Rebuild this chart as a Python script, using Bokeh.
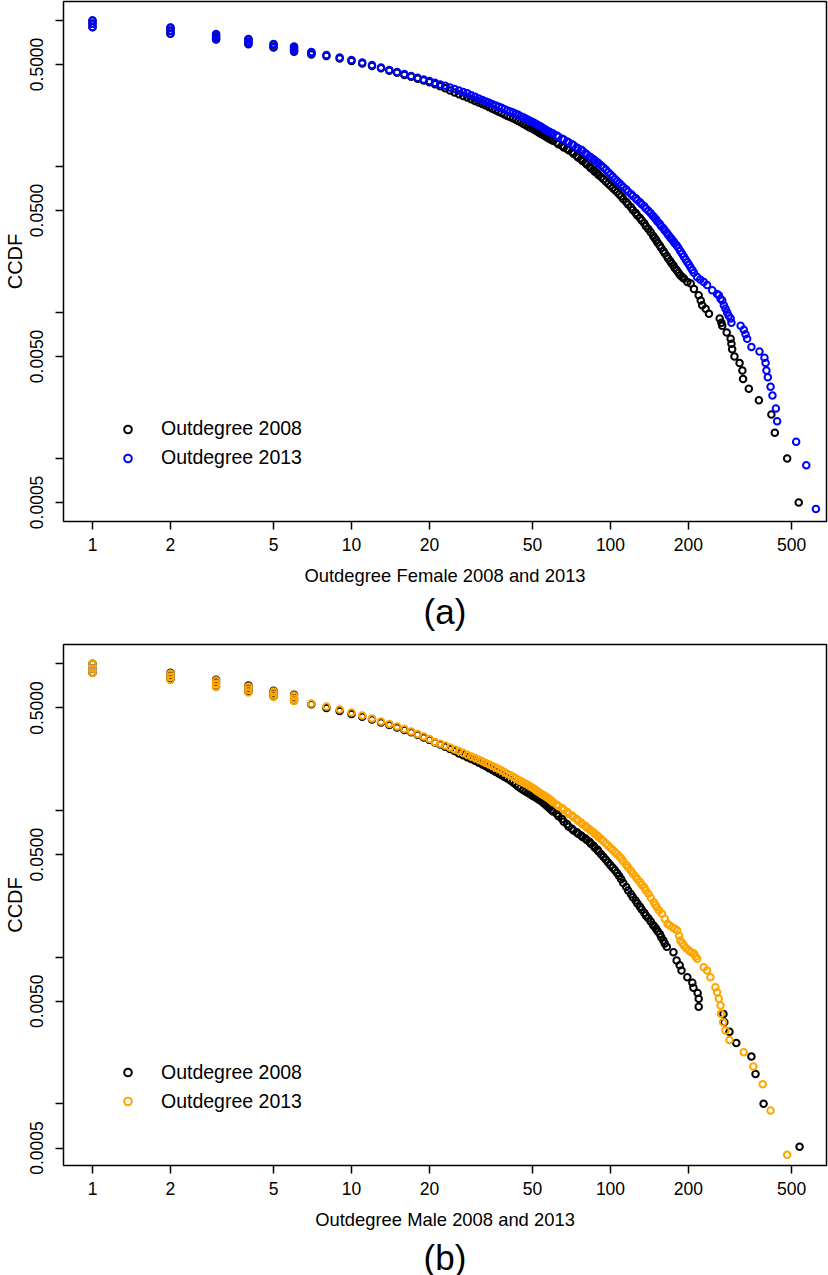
from bokeh.plotting import figure
from bokeh.models import (Range1d, FixedTicker, Legend, LegendItem, Title,
                          BasicTickFormatter, PrintfTickFormatter)
from bokeh.layouts import column
from bokeh.embed import file_html
from bokeh.resources import INLINE

FONT = "Liberation Sans"

# ---------------- data (degree, CCDF) ----------------
# Panel (a): Outdegree Female 2008 (black) and 2013 (blue)
fem08 = [
    (1, 1.0), (1, 0.95), (1, 0.90), (2, 0.89), (2, 0.85), (2, 0.81),
    (3, 0.80), (3, 0.77), (3, 0.74), (4, 0.74), (4, 0.71), (4, 0.688),
    (5, 0.682), (5, 0.652), (6, 0.655), (6, 0.630), (6, 0.610), (7, 0.600), (7, 0.585),
    (8, 0.572), (9, 0.550), (10, 0.528), (11, 0.508), (12, 0.488), (13, 0.470),
    (14, 0.452), (15, 0.438), (16, 0.424), (17, 0.411), (18, 0.399), (19, 0.388),
    (20, 0.378), (21, 0.366), (22, 0.354), (23, 0.343), (24, 0.331), (25, 0.321),
    (26, 0.312), (27, 0.304), (28, 0.297), (29, 0.289), (30, 0.281), (31, 0.274),
    (32, 0.268), (33, 0.262), (34, 0.255), (35, 0.249), (36, 0.243), (37, 0.237),
    (38, 0.232), (39, 0.227), (40, 0.222), (42, 0.214), (44, 0.205), (46, 0.196),
    (48, 0.188), (50, 0.181), (52, 0.174), (54, 0.167), (56, 0.161), (58, 0.155),
    (60, 0.150), (63, 0.142), (66, 0.135), (69, 0.129), (72, 0.122), (75, 0.115),
    (78, 0.109), (81, 0.103), (84, 0.0972), (87, 0.0922), (90, 0.0875), (94, 0.0818),
    (98, 0.0762), (102, 0.0712), (106, 0.0668), (110, 0.0625), (115, 0.0572),
    (120, 0.0525), (125, 0.0481), (130, 0.0444), (135, 0.0408), (140, 0.0373),
    (146, 0.0335), (150, 0.0313), (155, 0.0288), (160, 0.0264), (165, 0.0244),
    (170, 0.0225), (175, 0.0210), (180, 0.0195), (186, 0.0180), (192, 0.0171),
    (198, 0.0162), (204, 0.0158), (210, 0.0145), (219, 0.0131), (223, 0.0121),
    (226, 0.0112), (233, 0.0106), (240, 0.0098), (264, 0.0091), (268, 0.0085),
    (270, 0.0081), (281, 0.0073), (291, 0.0066), (293, 0.0061), (295, 0.0056),
    (301, 0.0050), (315, 0.0045), (323, 0.0040), (325, 0.0035), (342, 0.0030),
    (374, 0.0025), (418, 0.0020), (431, 0.0015), (481, 0.0010), (533, 0.0005),
]
fem08_band = [
    (41, 0.218), (43, 0.2095), (45, 0.2005), (47, 0.192), (49, 0.1845),
    (51, 0.1775), (53, 0.1705), (55, 0.164), (57, 0.158), (59, 0.1525),
    (62, 0.146), (65, 0.1385), (68, 0.132), (71, 0.1255), (74, 0.1185),
    (77, 0.112), (80, 0.106), (83, 0.100), (86, 0.0947), (89, 0.0898),
    (92, 0.0846), (96, 0.0790), (100, 0.0737), (104, 0.0690), (108, 0.0646),
    (112, 0.0598), (117, 0.0548), (122, 0.0503), (127, 0.0462), (132, 0.0426),
    (137, 0.0390), (143, 0.0354), (148, 0.0324), (152, 0.0300), (157, 0.0276),
    (162, 0.0254), (167, 0.0234), (172, 0.0217), (177, 0.0202), (183, 0.0187),
    (189, 0.0175),
]
fem13 = [
    (1, 1.0), (1, 0.954), (1, 0.903), (2, 0.896), (2, 0.854), (2, 0.815),
    (3, 0.808), (3, 0.777), (3, 0.747), (4, 0.747), (4, 0.718), (4, 0.696),
    (5, 0.690), (5, 0.659), (6, 0.664), (6, 0.638), (6, 0.618), (7, 0.609), (7, 0.592),
    (8, 0.580), (9, 0.558), (10, 0.536), (11, 0.516), (12, 0.496), (13, 0.477),
    (14, 0.458), (15, 0.444), (16, 0.430), (17, 0.417), (18, 0.405), (19, 0.394),
    (20, 0.385), (21, 0.374), (22, 0.364), (23, 0.357), (24, 0.348), (25, 0.340),
    (26, 0.332), (27, 0.324), (28, 0.317), (29, 0.308), (30, 0.300), (31, 0.292),
    (32, 0.285), (33, 0.279), (34, 0.273), (35, 0.267), (36, 0.262), (37, 0.256),
    (38, 0.252), (39, 0.247), (40, 0.242), (42, 0.234), (44, 0.226), (46, 0.217),
    (48, 0.209), (50, 0.202), (52, 0.194), (54, 0.187), (56, 0.179), (58, 0.173),
    (60, 0.168), (63, 0.160), (66, 0.153), (69, 0.146), (72, 0.140), (75, 0.133),
    (78, 0.128), (81, 0.121), (84, 0.115), (87, 0.110), (90, 0.105), (94, 0.0984),
    (98, 0.0913), (102, 0.0850), (106, 0.0794), (110, 0.0748), (115, 0.0696),
    (120, 0.0648), (125, 0.0607), (130, 0.0569), (135, 0.0534), (140, 0.0498),
    (146, 0.0458), (150, 0.0434), (155, 0.0403), (160, 0.0377), (165, 0.0352),
    (170, 0.0328), (175, 0.0308), (180, 0.0289), (186, 0.0264), (192, 0.0241),
    (198, 0.0221), (204, 0.0203), (210, 0.0187), (216, 0.0175), (222, 0.0168),
    (229, 0.0162), (236, 0.0154), (247, 0.0142), (258, 0.0134), (262, 0.0131),
    (266, 0.0124), (270, 0.0121), (274, 0.0112), (278, 0.0106), (282, 0.0100),
    (286, 0.0095), (291, 0.0091), (293, 0.0085), (318, 0.0081), (327, 0.0076),
    (332, 0.0071), (337, 0.0066), (350, 0.0058), (376, 0.0054), (393, 0.0049),
    (397, 0.0045), (400, 0.0040), (405, 0.0036), (415, 0.0031), (422, 0.0027),
    (435, 0.0022), (440, 0.0018), (521, 0.0013), (570, 0.0009), (621, 0.00045),
]
fem13_band = [
    (41, 0.238), (43, 0.230), (45, 0.221), (47, 0.213), (49, 0.205),
    (51, 0.198), (53, 0.190), (55, 0.183), (57, 0.176), (59, 0.170),
    (62, 0.163), (65, 0.155), (68, 0.148), (71, 0.142), (74, 0.135),
    (77, 0.130), (80, 0.123), (83, 0.117), (86, 0.112), (89, 0.107),
    (92, 0.1017), (96, 0.0948), (100, 0.0881), (104, 0.0822), (108, 0.0771),
    (112, 0.0722), (117, 0.0672), (122, 0.0627), (127, 0.0588), (132, 0.0551),
    (137, 0.0516), (143, 0.0478), (148, 0.0446), (152, 0.0418), (157, 0.0390),
    (162, 0.0364), (167, 0.0340), (172, 0.0318), (177, 0.0298), (183, 0.0276),
    (189, 0.0252), (195, 0.0231), (201, 0.0212), (207, 0.0195),
]

# Panel (b): Outdegree Male 2008 (black) and 2013 (orange)
male08 = [
    (1, 1.0), (1, 0.93), (1, 0.87), (2, 0.87), (2, 0.83), (2, 0.785),
    (3, 0.78), (3, 0.745), (3, 0.70), (4, 0.71), (4, 0.675), (4, 0.645),
    (5, 0.655), (5, 0.625), (5, 0.60), (6, 0.615), (6, 0.585), (6, 0.56),
    (7, 0.530), (8, 0.500), (9, 0.477), (10, 0.455), (11, 0.436), (12, 0.417),
    (13, 0.398), (14, 0.383), (15, 0.368), (16, 0.354), (17, 0.341), (18, 0.328),
    (19, 0.315), (20, 0.303), (21, 0.291), (22, 0.282), (23, 0.272), (24, 0.263),
    (25, 0.254), (26, 0.245), (27, 0.238), (28, 0.231), (29, 0.224), (30, 0.218),
    (31, 0.212), (32, 0.206), (33, 0.200), (34, 0.194), (35, 0.189), (36, 0.184),
    (37, 0.179), (38, 0.174), (39, 0.169), (40, 0.165), (42, 0.156), (44, 0.146),
    (46, 0.138), (48, 0.132), (50, 0.126), (52, 0.121), (54, 0.116), (56, 0.110),
    (58, 0.104), (60, 0.0985), (63, 0.0913), (66, 0.0839), (69, 0.0774),
    (72, 0.0731), (75, 0.0693), (78, 0.0660), (81, 0.0629), (84, 0.0593),
    (87, 0.0558), (90, 0.0525), (94, 0.0482), (98, 0.0442), (102, 0.0407),
    (106, 0.0375), (110, 0.0340), (115, 0.0301), (120, 0.0269), (125, 0.0243),
    (130, 0.0221), (135, 0.0201), (140, 0.0184), (146, 0.0166), (150, 0.0156),
    (155, 0.0144), (160, 0.0130), (165, 0.0118), (175, 0.0108), (180, 0.0095),
    (185, 0.0088), (188, 0.0081), (198, 0.0073), (207, 0.0067), (209, 0.0062),
    (217, 0.0057), (219, 0.0052), (219, 0.0046), (273, 0.0041), (275, 0.0036),
    (288, 0.0031), (306, 0.0026), (350, 0.0021), (363, 0.0016), (390, 0.0010),
    (537, 0.00051),
]
male08_band = [
    (41, 0.1605), (43, 0.151), (45, 0.142), (47, 0.135), (49, 0.129),
    (51, 0.1235), (53, 0.1185), (55, 0.113), (57, 0.107), (59, 0.101),
    (62, 0.0949), (65, 0.0876), (68, 0.0806), (71, 0.0752), (74, 0.0712),
    (77, 0.0676), (80, 0.0644), (83, 0.0611), (86, 0.0575), (89, 0.0541),
    (92, 0.0503), (96, 0.0462), (100, 0.0424), (104, 0.0391), (108, 0.0357),
    (112, 0.0320), (117, 0.0285), (122, 0.0256), (127, 0.0232), (132, 0.0211),
    (137, 0.0192), (143, 0.0175), (148, 0.0161), (152, 0.0150), (157, 0.0137),
    (162, 0.0124),
]
male13 = [
    (1, 1.0), (1, 0.93), (1, 0.866), (2, 0.859), (2, 0.819), (2, 0.776),
    (3, 0.769), (3, 0.734), (3, 0.695), (4, 0.700), (4, 0.668), (4, 0.637),
    (5, 0.647), (5, 0.618), (5, 0.594), (6, 0.608), (6, 0.580), (6, 0.558),
    (7, 0.536), (8, 0.512), (9, 0.488), (10, 0.466), (11, 0.444), (12, 0.424),
    (13, 0.404), (14, 0.389), (15, 0.374), (16, 0.359), (17, 0.346), (18, 0.332),
    (19, 0.319), (20, 0.307), (21, 0.293), (22, 0.285), (23, 0.277), (24, 0.269),
    (25, 0.261), (26, 0.254), (27, 0.247), (28, 0.240), (29, 0.233), (30, 0.228),
    (31, 0.222), (32, 0.217), (33, 0.211), (34, 0.206), (35, 0.201), (36, 0.196),
    (37, 0.192), (38, 0.187), (39, 0.182), (40, 0.178), (42, 0.170), (44, 0.162),
    (46, 0.155), (48, 0.149), (50, 0.143), (52, 0.136), (54, 0.130), (56, 0.125),
    (58, 0.120), (60, 0.114), (63, 0.107), (66, 0.101), (69, 0.0951), (72, 0.0899),
    (75, 0.0851), (78, 0.0806), (81, 0.0766), (84, 0.0727), (87, 0.0693),
    (90, 0.0660), (94, 0.0616), (98, 0.0574), (102, 0.0537), (106, 0.0503),
    (110, 0.0472), (115, 0.0427), (120, 0.0389), (125, 0.0355), (130, 0.0326),
    (135, 0.0299), (140, 0.0271), (147, 0.0237), (151, 0.0219), (158, 0.0198),
    (166, 0.0169), (173, 0.0160), (181, 0.0152), (186, 0.0130), (192, 0.0120),
    (201, 0.0111), (210, 0.0106), (216, 0.00975), (229, 0.00855), (236, 0.00811),
    (243, 0.00731), (254, 0.00624), (258, 0.00577), (262, 0.00520), (266, 0.00469),
    (267, 0.00411), (272, 0.00360), (278, 0.00316), (288, 0.00273), (327, 0.00225),
    (356, 0.00180), (387, 0.00136), (415, 0.000902), (481, 0.000450),
]
male13_band = [
    (41, 0.174), (43, 0.166), (45, 0.1585), (47, 0.152), (49, 0.146),
    (51, 0.1395), (53, 0.133), (55, 0.1275), (57, 0.1225), (59, 0.117),
    (62, 0.1095), (65, 0.104), (68, 0.098), (71, 0.0925), (74, 0.0875),
    (77, 0.0828), (80, 0.0786), (83, 0.0746), (86, 0.0710), (89, 0.0676),
    (92, 0.0638), (96, 0.0595), (100, 0.0555), (104, 0.0520), (108, 0.0487),
    (112, 0.0450), (117, 0.0408), (122, 0.0372), (127, 0.0340), (132, 0.0312),
    (137, 0.0285), (143, 0.0254), (149, 0.0228), (154, 0.0208), (162, 0.0183),
    (169, 0.0165), (177, 0.0156), (184, 0.0140), (189, 0.0125), (196, 0.0115),
    (205, 0.0108), (213, 0.0101),
]

x_ticks = [1, 2, 5, 10, 20, 50, 100, 200, 500]
x_tick_labels = ["1", "2", "5", "10", "20", "50", "100", "200", "500"]
y_ticks = [0.0005, 0.001, 0.005, 0.01, 0.05, 0.1, 0.5, 1.0]
y_tick_labels = ["0.0005", "", "0.0050", "", "0.0500", "", "0.5000", ""]
legend_labels = ["Outdegree 2008", "Outdegree 2013"]

X_RANGE = (0.7727, 682.3)


def make_panel(s08, s13, color13, xlabel, caption, y_range, frame_h,
               top_border, bottom_border, legend_loc, cap_standoff):
    p = figure(frame_width=763, frame_height=frame_h,
               x_axis_type="log", y_axis_type="log",
               x_range=Range1d(*X_RANGE), y_range=Range1d(*y_range),
               output_backend="svg", toolbar_location=None,
               min_border_left=63, min_border_right=2,
               min_border_top=top_border, min_border_bottom=bottom_border,
               background_fill_color="white", border_fill_color="white")
    p.grid.visible = False
    p.outline_line_color = "black"
    p.outline_line_width = 1.5

    d08, c08 = zip(*s08)
    d13, c13 = zip(*s13)
    r08 = p.scatter(list(d08), list(c08), marker="circle", size=6.5,
                    fill_color=None, line_color="black", line_width=2.0)
    r13 = p.scatter(list(d13), list(c13), marker="circle", size=6.5,
                    fill_color=None, line_color=color13, line_width=2.0)

    xa = p.xaxis[0]
    ya = p.yaxis[0]
    xa.ticker = FixedTicker(ticks=x_ticks, minor_ticks=[])
    xa.formatter = BasicTickFormatter()
    xa.major_label_overrides = {t: l for t, l in zip(x_ticks, x_tick_labels)}
    ya.ticker = FixedTicker(ticks=y_ticks, minor_ticks=[])
    ya.formatter = PrintfTickFormatter(format="%.4f")
    ya.major_label_overrides = {t: l for t, l in zip(y_ticks, y_tick_labels)}
    ya.major_label_orientation = "vertical"

    for ax in (xa, ya):
        ax.axis_line_color = None
        ax.major_tick_line_color = "black"
        ax.major_tick_line_width = 1.5
        ax.major_tick_out = 8
        ax.major_tick_in = 0
        ax.minor_tick_line_color = None
        ax.major_label_text_font = FONT
        ax.major_label_text_font_size = "17.5px"
        ax.major_label_text_color = "black"
        ax.axis_label_text_font = FONT
        ax.axis_label_text_font_style = "normal"
        ax.axis_label_text_color = "black"

    xa.major_label_standoff = 8
    xa.axis_label = xlabel
    xa.axis_label_text_font_size = "18.4px"
    xa.axis_label_standoff = 11
    ya.major_label_standoff = 12
    ya.axis_label = "CCDF"
    ya.axis_label_text_font_size = "20px"
    ya.axis_label_standoff = 2

    legend = Legend(items=[LegendItem(label=legend_labels[0], renderers=[r08]),
                           LegendItem(label=legend_labels[1], renderers=[r13])],
                    location=legend_loc, padding=0, margin=0, spacing=6,
                    glyph_width=19, glyph_height=22, label_height=22,
                    label_standoff=24, border_line_color=None,
                    background_fill_alpha=0, label_text_font=FONT,
                    label_text_font_size="19.5px", label_text_color="black")
    p.add_layout(legend)

    cap = Title(text=caption, align="center", text_font=FONT,
                text_font_size="35px", text_font_style="normal",
                text_color="black", standoff=cap_standoff)
    p.add_layout(cap, "below")
    return p


pa = make_panel(fem08 + fem08_band, fem13 + fem13_band, "#0000FF",
                "Outdegree Female 2008 and 2013", "(a)",
                (0.000370, 1.349), 520, 1, 115, (55, 52), 3)
pb = make_panel(male08 + male08_band, male13 + male13_band, "#FFA500",
                "Outdegree Male 2008 and 2013", "(b)",
                (0.000380, 1.354), 521, 8, 110, (55, 52.5), 7)

layout = column(pa, pb, spacing=0)
open("out.html", "w").write(file_html(layout, INLINE, title="CCDF Outdegree"))
